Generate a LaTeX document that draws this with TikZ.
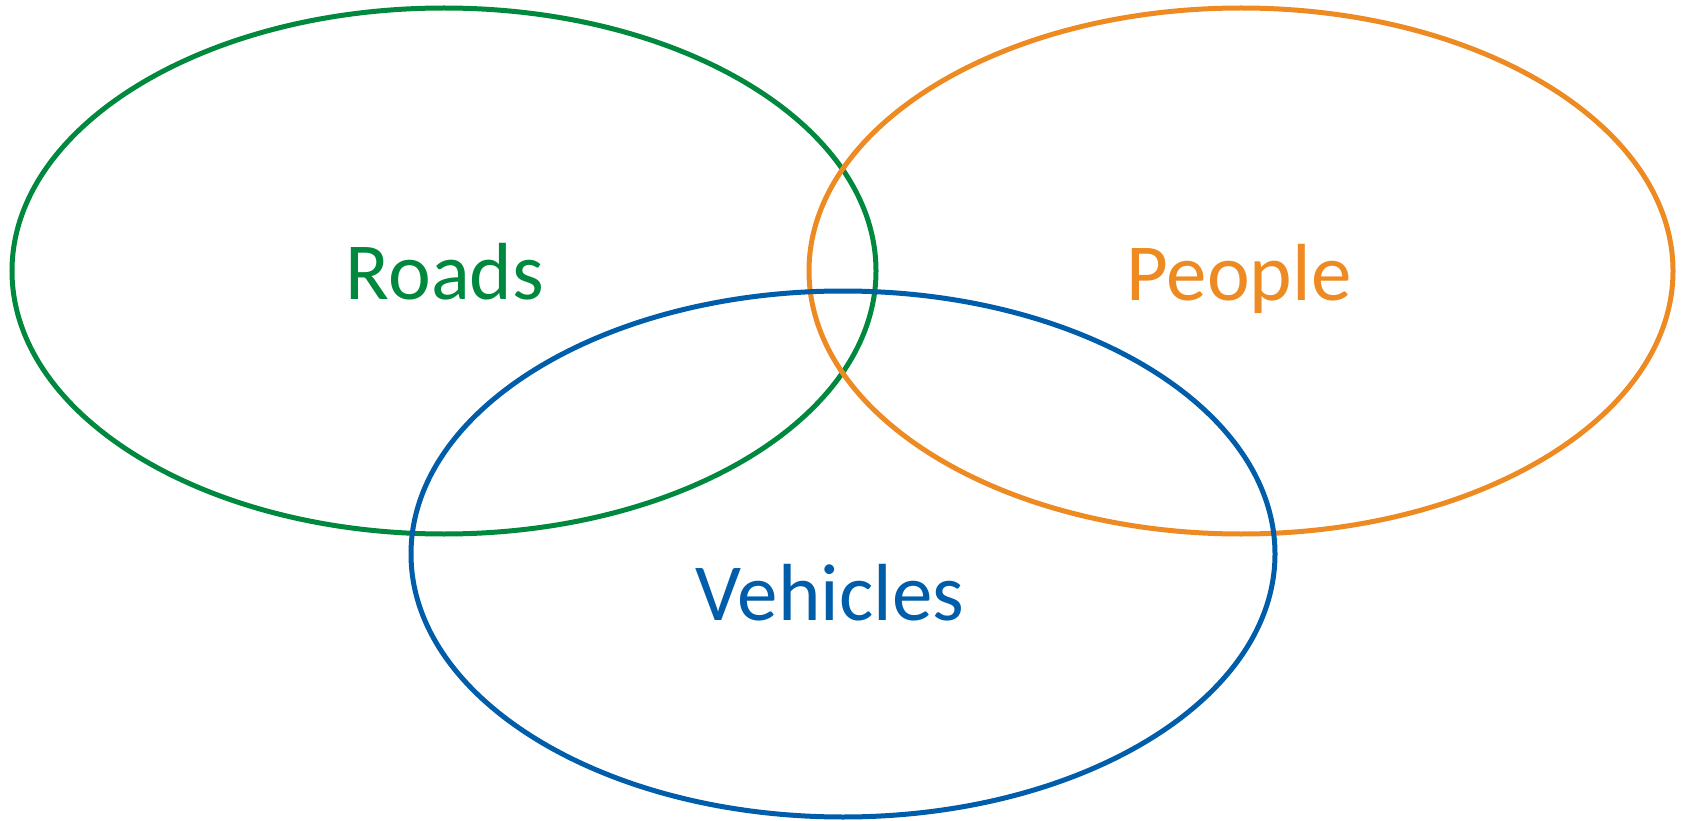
\documentclass[tikz,border=0pt]{standalone}
\usepackage{fontspec}
\setmainfont{Carlito}
\definecolor{roadgreen}{RGB}{0,137,62}
\definecolor{peopleorange}{RGB}{238,138,34}
\definecolor{vehicleblue}{RGB}{0,93,170}
\begin{document}
\begin{tikzpicture}[x=1pt,y=-1pt,
  setring/.style={line width=5pt},
  setlabel/.style={anchor=base,inner sep=0pt,font=\fontsize{81}{97}\selectfont}]
\useasboundingbox (0,0) rectangle (1682,821);
% the three sets
\draw[setring,roadgreen] (444,271) ellipse [x radius=432pt, y radius=263pt];
\draw[setring,peopleorange] (1241,271) ellipse [x radius=432pt, y radius=263pt];
\draw[setring,vehicleblue] (843,554) ellipse [x radius=432pt, y radius=263pt];
% set names
\node[setlabel,text=roadgreen] (roads) at (445,299) {Roads};
\node[setlabel,text=peopleorange] (people) at (1239,300) {People};
\node[setlabel,text=vehicleblue] (vehicles) at (830,620) {Vehicles};
\end{tikzpicture}
\end{document}
